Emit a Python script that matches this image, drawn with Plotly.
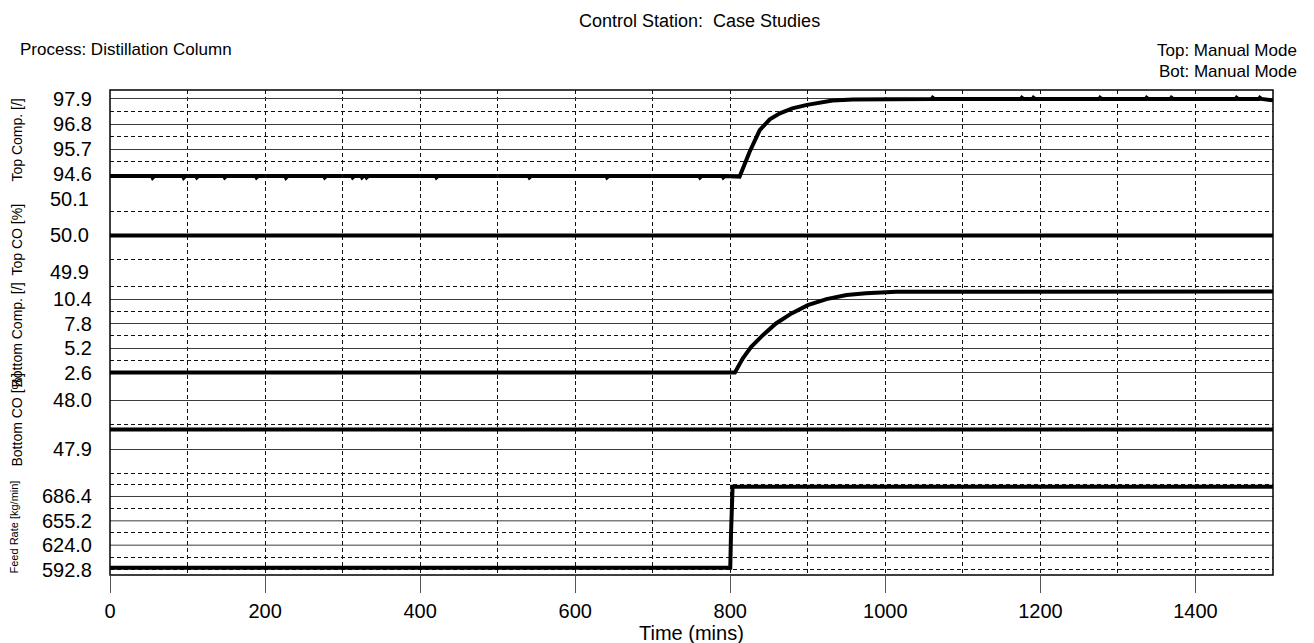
import plotly.graph_objects as go

# ---------------- data ----------------
top_comp_time = [0, 54, 55, 57, 94, 95, 97, 111, 112, 114, 147, 148, 150, 188, 189, 191,
                 226, 227, 229, 276, 277, 279, 312, 313, 315, 324, 325, 327, 330, 331, 333,
                 420, 421, 423, 540, 541, 543, 640, 641, 643, 760, 761, 763, 790, 791, 793,
                 812, 825, 838, 851, 864, 880, 899, 915, 932, 958, 1002,
                 1060, 1061, 1063, 1175, 1176, 1178, 1190, 1191, 1193, 1276, 1277, 1279,
                 1336, 1337, 1339, 1368, 1369, 1371, 1452, 1453, 1455, 1482, 1483, 1485,
                 1495, 1500]
top_comp_value = [94.53, 94.53, 94.46, 94.53, 94.53, 94.46, 94.53, 94.53, 94.47, 94.53,
                  94.53, 94.47, 94.53, 94.53, 94.47, 94.53, 94.53, 94.46, 94.53,
                  94.53, 94.47, 94.53, 94.53, 94.47, 94.53, 94.53, 94.47, 94.53,
                  94.53, 94.47, 94.53, 94.53, 94.47, 94.53, 94.53, 94.47, 94.53,
                  94.53, 94.47, 94.53, 94.53, 94.47, 94.53, 94.53, 94.47, 94.53,
                  94.50, 95.59, 96.54, 97.01, 97.27, 97.49, 97.64, 97.74, 97.83, 97.88, 97.90,
                  97.90, 97.95, 97.90, 97.90, 97.95, 97.90, 97.90, 97.95, 97.90,
                  97.90, 97.95, 97.90, 97.90, 97.95, 97.90, 97.90, 97.95, 97.90,
                  97.90, 97.95, 97.90, 97.90, 97.95, 97.90, 97.88, 97.84]

top_co_time = [0, 1500]
top_co_value = [50.0, 50.0]

bottom_comp_time = [0, 806, 816, 827, 842, 859, 879, 900, 924, 950, 975, 1014, 1500]
bottom_comp_value = [2.6, 2.6, 4.09, 5.32, 6.57, 7.81, 8.88, 9.76, 10.40, 10.83, 11.01, 11.18, 11.2]

bottom_co_time = [0, 1500]
bottom_co_value = [47.94, 47.94]

feed_time = [0, 800, 801, 803, 1500]
feed_value = [595.0, 595.0, 640.0, 699.0, 699.0]

x_ticks = [0, 200, 400, 600, 800, 1000, 1200, 1400]
top_comp_ticks = [94.6, 95.7, 96.8, 97.9]
top_co_ticks = [49.9, 50.0, 50.1]
top_co_label_pos = [49.924, 50.0, 50.0755]   # labels pulled inside the panel
bottom_comp_ticks = [2.6, 5.2, 7.8, 10.4]
bottom_co_ticks = [47.9, 48.0]
feed_ticks = [592.8, 624.0, 655.2, 686.4]

# ---------------- styling ----------------
FONT = "Liberation Sans, Arial, sans-serif"
SOLID = "#3c3c3c"
DASHC = "#111111"
DASH = "4px,3px"
LW = 4

fig = go.Figure()
series = [
    (top_comp_time, top_comp_value, "x", "y"),
    (top_co_time, top_co_value, "x2", "y2"),
    (bottom_comp_time, bottom_comp_value, "x3", "y3"),
    (bottom_co_time, bottom_co_value, "x4", "y4"),
    (feed_time, feed_value, "x5", "y5"),
]
for t, v, xa, ya in series:
    fig.add_trace(go.Scatter(x=t, y=v, xaxis=xa, yaxis=ya, mode="lines",
                             line=dict(color="black", width=LW), showlegend=False,
                             hoverinfo="skip"))


def mids(ticks):
    step = ticks[1] - ticks[0]
    return [round(a + step / 2, 4) for a in ticks]


def xax(i):
    d = dict(range=[0, 1500], anchor="y" if i == 1 else f"y{i}", domain=[0, 1],
             tickmode="array", tickvals=x_ticks,
             showgrid=True, gridcolor=DASHC, griddash=DASH, gridwidth=1,
             minor=dict(dtick=100, tick0=0, showgrid=True, gridcolor=DASHC,
                        griddash=DASH, gridwidth=1),
             zeroline=False, showline=False, fixedrange=True)
    if i == 5:
        d.update(showticklabels=True, ticks="outside", ticklen=17, tickwidth=1,
                 tickcolor="#555", tickfont=dict(family=FONT, size=20, color="black"),
                 ticklabelstandoff=1)
    else:
        d.update(showticklabels=False, ticks="")
    return d


def yax(i, dom, rng, ticks, minor_vals, labels=True, grid=True):
    return dict(domain=dom, anchor="x" if i == 1 else f"x{i}", range=rng,
                tickmode="array", tickvals=ticks, ticktext=["{:.1f}".format(v) for v in ticks],
                showticklabels=labels, ticks="",
                tickfont=dict(family=FONT, size=20, color="black"),
                ticklabelstandoff=17,
                showgrid=grid, gridcolor=SOLID, gridwidth=1,
                minor=dict(tickmode="array", tickvals=minor_vals, showgrid=True,
                           gridcolor=DASHC, griddash=DASH, gridwidth=1, ticks=""),
                zeroline=False, showline=False, fixedrange=True)


layout = dict(
    width=1314, height=643,
    margin=dict(l=110, r=41, t=90, b=68),
    paper_bgcolor="white", plot_bgcolor="white",
    font=dict(family=FONT, color="black"),
    showlegend=False,
)
for i in range(1, 6):
    layout["xaxis" if i == 1 else f"xaxis{i}"] = xax(i)

layout["yaxis"] = yax(1, [0.8, 1.0], [94.05, 98.29], top_comp_ticks, mids(top_comp_ticks))
layout["yaxis2"] = yax(2, [0.6, 0.8], [49.899, 50.101], top_co_ticks, [49.95, 50.05], labels=False)
layout["yaxis3"] = yax(3, [0.4, 0.6], [1.7, 12.0], bottom_comp_ticks, mids(bottom_comp_ticks))
layout["yaxis4"] = yax(4, [0.2, 0.4], [47.841, 48.039], bottom_co_ticks, [47.85, 47.95])
layout["yaxis5"] = yax(5, [0.0, 0.2], [585.75, 710.1], feed_ticks,
                       [feed_ticks[0]] + mids(feed_ticks), grid=False)
fig.update_layout(**layout)

# solid grid lines of the feed panel (the 592.8 line is dashed in the reference)
for v in feed_ticks[1:]:
    fig.add_shape(type="line", xref="x5 domain", x0=0, x1=1, yref="y5", y0=v, y1=v,
                  line=dict(color=SOLID, width=1), layer="below")

# frame
fig.add_shape(type="rect", xref="paper", yref="paper", x0=0, x1=1, y0=0, y1=1,
              line=dict(color="black", width=1.5), layer="above")

PW, PH = 1163.0, 485.0


def px_x(p):
    return (p - 110) / PW


def px_y(p):
    return (575 - p) / PH


ann = [
    dict(text="Control Station:\u00a0 Case Studies", x=px_x(699), y=px_y(21), xanchor="center",
         yanchor="middle", font=dict(size=18)),
    dict(text="Process: Distillation Column", x=px_x(18), y=px_y(49), xanchor="left",
         yanchor="middle", font=dict(size=17)),
    dict(text="Top: Manual Mode", x=px_x(1299), y=px_y(50), xanchor="right",
         yanchor="middle", font=dict(size=17)),
    dict(text="Bot: Manual Mode", x=px_x(1299), y=px_y(72), xanchor="right",
         yanchor="middle", font=dict(size=17)),
    dict(text="Time (mins)", x=px_x(691), y=px_y(633), xanchor="center",
         yanchor="middle", font=dict(size=20)),
]
ytitles = [("Top Comp. [/]", 140, 14, 16.5), ("Top CO [%]", 240, 14, 16.5),
           ("Bottom Comp. [/]", 335, 14, 16.5), ("Bottom CO [%]", 420, 14, 16.5),
           ("Feed Rate [kg/min]", 527, 11, 13.5)]
for txt, yc, fs, xc in ytitles:
    ann.append(dict(text=txt, x=px_x(xc), y=px_y(yc), xanchor="center", yanchor="middle",
                    textangle=-90, font=dict(size=fs)))
for a in ann:
    a.update(xref="paper", yref="paper")

# tick labels of the Top CO panel, kept inside the panel as in the reference
for pos, val in zip(top_co_label_pos, top_co_ticks):
    ann.append(dict(text="{:.1f}".format(val), xref="paper", x=px_x(91), xanchor="right",
                    yref="y2", y=pos, yanchor="middle", font=dict(size=20)))

for a in ann:
    a["showarrow"] = False
    a["font"] = dict(family=FONT, color="black", **a["font"])
fig.update_layout(annotations=ann)

fig.write_html("out.html")
